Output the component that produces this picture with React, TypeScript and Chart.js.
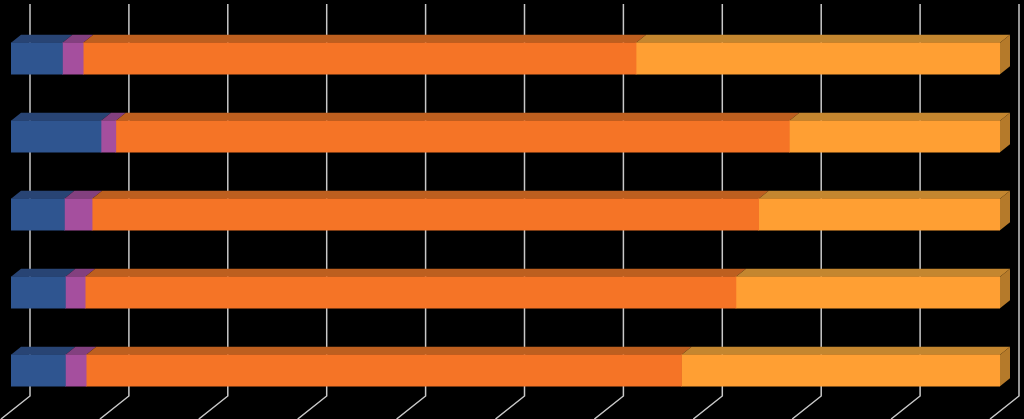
import { useEffect, useRef } from 'react';
import { Chart, registerables } from 'chart.js';

Chart.register(...registerables);

const categories = ['1', '2', '3', '4', '5'];
const blueValues = [5.2, 9.1, 5.4, 5.5, 5.5];
const purpleValues = [2.1, 1.5, 2.8, 2.0, 2.1];
const orangeValues = [55.9, 68.1, 67.4, 65.8, 60.2];
const lightOrangeValues = [36.8, 21.3, 24.4, 26.7, 32.2];

const frontColors = ['#2f5590', '#a54f9e', '#f57426', '#ff9f33'];
const topColors = ['#284474', '#83407f', '#bd5f1f', '#c4862f'];
const sideColor = '#b57a2a';

// depth of the fake 3d box, in pixels
const depthX = 10;
const depthY = 8;

const box3d = {
    id: 'box3d',
    beforeDatasetsDraw(chart: any) {
        const { ctx, scales } = chart;
        ctx.save();

        // gridlines sit on the back wall and run out over the floor
        ctx.strokeStyle = '#c8c8c8';
        ctx.lineWidth = 1.5;
        scales.x.ticks.forEach((tick: any) => {
            const x = scales.x.getPixelForValue(tick.value) + 19;
            ctx.beginPath();
            ctx.moveTo(x, 4);
            ctx.lineTo(x, 396);
            ctx.lineTo(x - 29, 419);
            ctx.stroke();
        });

        chart.data.datasets.forEach((_: any, i: number) => {
            chart.getDatasetMeta(i).data.forEach((bar: any) => {
                const top = bar.y - bar.height / 2;
                const bottom = bar.y + bar.height / 2;
                ctx.fillStyle = topColors[i];
                ctx.beginPath();
                ctx.moveTo(bar.base, top);
                ctx.lineTo(bar.x, top);
                ctx.lineTo(bar.x + depthX, top - depthY);
                ctx.lineTo(bar.base + depthX, top - depthY);
                ctx.closePath();
                ctx.fill();

                if (i === chart.data.datasets.length - 1) {
                    ctx.fillStyle = sideColor;
                    ctx.beginPath();
                    ctx.moveTo(bar.x, top);
                    ctx.lineTo(bar.x + depthX, top - depthY);
                    ctx.lineTo(bar.x + depthX, bottom - depthY);
                    ctx.lineTo(bar.x, bottom);
                    ctx.closePath();
                    ctx.fill();
                }
            });
        });
        ctx.restore();
    },
};

const App = () => {
    const chartRef = useRef<HTMLCanvasElement | null>(null);

    useEffect(() => {
        if (!chartRef.current) return;
        document.body.style.margin = '0';
        document.body.style.background = '#000';

        const chart = new Chart(chartRef.current, {
            type: 'bar',
            data: {
                labels: categories,
                datasets: [blueValues, purpleValues, orangeValues, lightOrangeValues].map((data, i) => ({
                    label: `Series ${i + 1}`,
                    data,
                    backgroundColor: frontColors[i],
                    barThickness: 31.5,
                })),
            },
            options: {
                indexAxis: 'y',
                responsive: false,
                animation: false,
                layout: { padding: { left: 11, right: 24, top: 19.5, bottom: 9.5 } },
                plugins: { legend: { display: false }, tooltip: { enabled: false } },
                scales: {
                    x: { stacked: true, min: 0, max: 100, display: false, ticks: { stepSize: 10 } },
                    y: { stacked: true, display: false },
                },
            },
            plugins: [box3d],
        });

        return () => chart.destroy();
    }, []);

    return <canvas ref={chartRef} width={1024} height={419} style={{ display: 'block', background: '#000' }}></canvas>;
};

export default App;
